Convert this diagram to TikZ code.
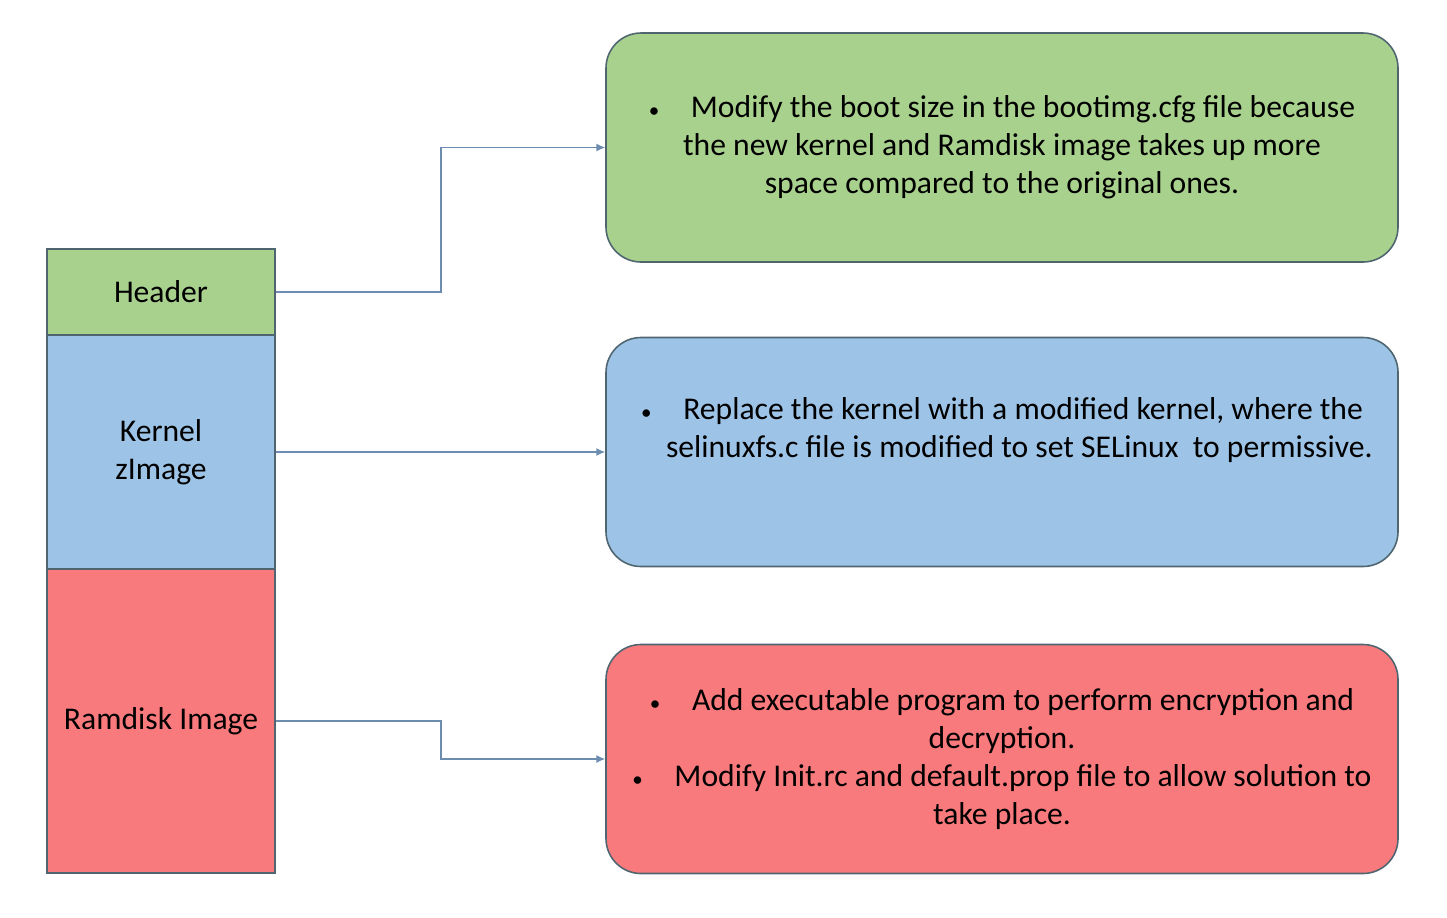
\documentclass[tikz,border=0pt]{standalone}
\usepackage{fontspec}
\setmainfont{Carlito}
\usetikzlibrary{arrows.meta}
\definecolor{hdrgreen}{HTML}{A9D18E}
\definecolor{krnblue}{HTML}{9DC3E6}
\definecolor{rmdred}{HTML}{F97A7C}
\definecolor{edgegray}{HTML}{4F6670}
\definecolor{linkblue}{HTML}{6C8DB0}
\tikzset{
  part/.style={draw=edgegray, line width=0.9pt, minimum width=4.56cm, align=center,
    inner sep=0pt, font=\fontsize{18pt}{21.6pt}\selectfont},
  note/.style={draw=edgegray, line width=0.9pt, rounded corners=0.7cm,
    minimum width=15.84cm, minimum height=4.58cm, align=center, inner sep=0pt,
    font=\fontsize{18pt}{21.6pt}\selectfont},
  link/.style={draw=linkblue, line width=0.7pt, -{Latex[length=5pt,width=4.5pt]}}
}
\newcommand{\bul}{{\fontsize{12pt}{0pt}\selectfont\textbullet}\hspace{1em}}
\begin{document}
\begin{tikzpicture}[x=0.2mm, y=-0.2mm]
\useasboundingbox (0,0) rectangle (1447,917);
% image layout
\node[part, fill=hdrgreen, minimum height=1.72cm] (header) at (161,292) {Header};
\node[part, fill=krnblue, minimum height=4.68cm] (kernel) at (161,452) {Kernel\\zImage};
\node[part, fill=rmdred, minimum height=6.08cm] (ramdisk) at (161,721) {Ramdisk Image};
% changes
\node[note, fill=hdrgreen] (bootcfg) at (1002,147.5)
  {\bul Modify the boot size in the bootimg.cfg file because\\
   the new kernel and Ramdisk image takes up more\\
   space compared to the original ones.};
\node[note, fill=krnblue] (newkernel) at (1002,452)
  {\bul Replace the kernel with a modified kernel, where the\\
   \hspace*{1.1em}selinuxfs.c file is modified to set SELinux\ \ to permissive.\\
   \strut};
\node[note, fill=rmdred] (newramdisk) at (1002,759)
  {\bul Add executable program to perform encryption and\\
   decryption.\\
   \bul Modify Init.rc and default.prop file to allow solution to\\
   take place.};
% connectors
\coordinate (turn) at (441,0);
\draw[link] (header.east) -- (header.east -| turn) |- (bootcfg.west);
\draw[link] (kernel.east) -- (newkernel.west);
\draw[link] (ramdisk.east) -- (ramdisk.east -| turn) |- (newramdisk.west);
\end{tikzpicture}
\end{document}
